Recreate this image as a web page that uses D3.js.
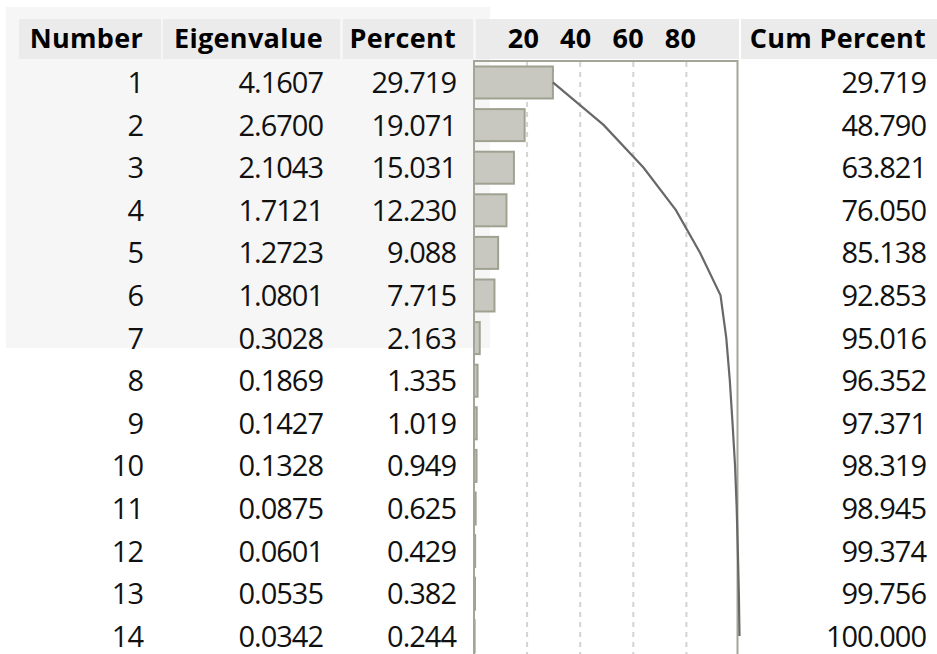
<!DOCTYPE html>
<html>
<head>
<meta charset="utf-8">
<script src="https://cdn.jsdelivr.net/npm/d3@7"></script>
<style>
  html, body { margin: 0; padding: 0; background: #fff; }
  svg { display: block; font-family: "Open Sans", "Noto Sans", sans-serif; }
  .cell-head { fill: #ebebeb; }
  .head-text { font-weight: bold; font-size: 27px; letter-spacing: 0.3px; fill: #000; }
  .body-text { font-size: 29px; letter-spacing: -1px; fill: #111; }
  .grid line { stroke: #d3d3d3; stroke-width: 2; stroke-dasharray: 5,5; }
  .bar { fill: #c8c8c0; stroke: #9fa191; stroke-width: 2; }
  .frame { fill: none; stroke: #a3a597; stroke-width: 2; }
  .cum-line { fill: none; stroke: #686868; stroke-width: 2.2; }
</style>
</head>
<body>
<svg id="chart" width="937" height="654"></svg>
<script>
const numbers = [1, 2, 3, 4, 5, 6, 7, 8, 9, 10, 11, 12, 13, 14];
const eigenvalues = ["4.1607", "2.6700", "2.1043", "1.7121", "1.2723", "1.0801", "0.3028",
  "0.1869", "0.1427", "0.1328", "0.0875", "0.0601", "0.0535", "0.0342"];
const percents = [29.719, 19.071, 15.031, 12.230, 9.088, 7.715, 2.163,
  1.335, 1.019, 0.949, 0.625, 0.429, 0.382, 0.244];
const cumPercents = [29.719, 48.790, 63.821, 76.050, 85.138, 92.853, 95.016,
  96.352, 97.371, 98.319, 98.945, 99.374, 99.756, 100.000];
const headers = ["Number", "Eigenvalue", "Percent", "Cum Percent"];
const axisTicks = [20, 40, 60, 80];

const svg = d3.select('#chart');

// faint panel behind the left part of the table
svg.append('rect')
  .attr('x', 6).attr('y', 7)
  .attr('width', 484).attr('height', 341)
  .attr('fill', '#f6f6f6');

// header cells
const headCells = [[19, 161], [163, 340], [343, 473], [476, 739], [741, 937]];
svg.selectAll('.cell-head')
  .data(headCells)
  .enter().append('rect')
  .attr('class', 'cell-head')
  .attr('x', d => d[0]).attr('y', 19)
  .attr('width', d => d[1] - d[0]).attr('height', 40);

// right edges of text columns
const colRight = [143, 323, 456, 926];
svg.selectAll('.head-label')
  .data(headers)
  .enter().append('text')
  .attr('class', 'head-text head-label')
  .attr('x', (d, i) => colRight[i])
  .attr('y', 48)
  .attr('text-anchor', 'end')
  .text(d => d);

// rows
const y = d3.scaleBand()
  .domain(numbers)
  .range([61, 61 + 42.6 * numbers.length])
  .paddingInner(0);

const x = d3.scaleLinear().domain([0, 100]).range([474, 739.5]);
// header labels sit slightly left of the grid in the original
const xLabel = d3.scaleLinear().domain([0, 100]).range([471, 733]);

// gridlines
svg.append('g')
  .attr('class', 'grid')
  .selectAll('line')
  .data(axisTicks)
  .enter().append('line')
  .attr('x1', d => x(d)).attr('x2', d => x(d))
  .attr('y1', 62).attr('y2', 654);

// tick labels in header
svg.selectAll('.tick-label')
  .data(axisTicks)
  .enter().append('text')
  .attr('class', 'head-text tick-label')
  .attr('x', d => xLabel(d))
  .attr('y', 48)
  .attr('text-anchor', 'middle')
  .text(d => d);

// bars
svg.selectAll('.bar')
  .data(percents)
  .enter().append('rect')
  .attr('class', 'bar')
  .attr('x', x(0))
  .attr('y', (d, i) => y(numbers[i]) + 5.5)
  .attr('width', d => x(d) - x(0))
  .attr('height', 32);

// frame
svg.append('rect')
  .attr('class', 'frame')
  .attr('x', x(0)).attr('y', 61)
  .attr('width', 737.5 - x(0)).attr('height', 620);

// cumulative line
const line = d3.line()
  .x(d => x(d))
  .y((d, i) => y(numbers[i]) + y.bandwidth() / 2);
svg.append('path')
  .datum(cumPercents)
  .attr('class', 'cum-line')
  .attr('d', line);

// table body text
const cols = [
  numbers.map(String),
  eigenvalues,
  percents.map(v => v.toFixed(3)),
  cumPercents.map(v => v.toFixed(3))
];
cols.forEach((col, c) => {
  svg.selectAll('.col' + c)
    .data(col)
    .enter().append('text')
    .attr('class', 'body-text col' + c)
    .attr('x', colRight[c])
    .attr('y', (d, i) => y(numbers[i]) + 32)
    .attr('text-anchor', 'end')
    .text(d => d);
});
</script>
</body>
</html>
